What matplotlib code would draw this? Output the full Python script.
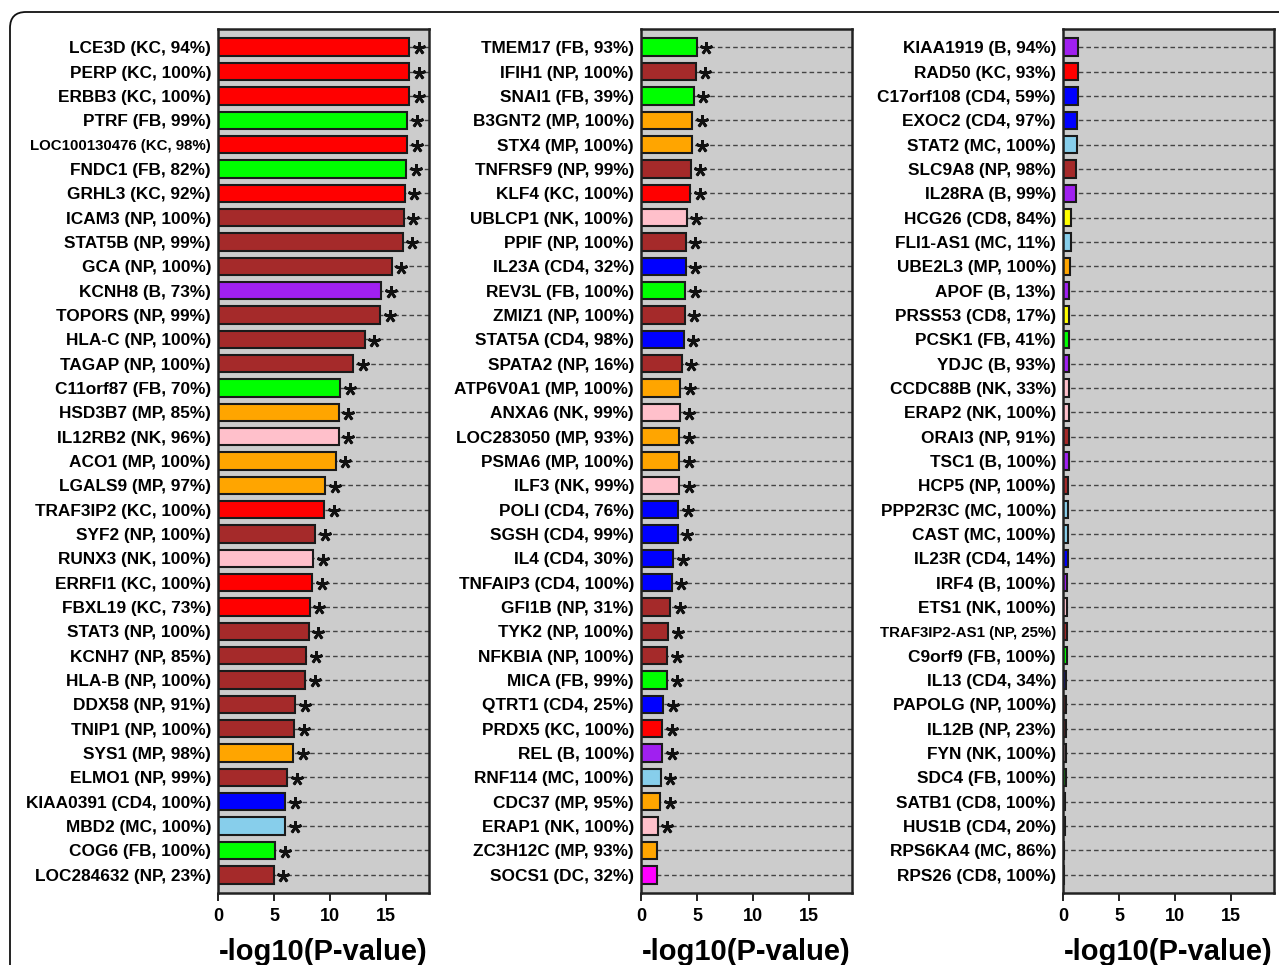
import matplotlib
matplotlib.use("Agg")
import matplotlib.pyplot as plt
from matplotlib.patches import FancyBboxPatch
from matplotlib.transforms import IdentityTransform
import numpy as np

plt.rcParams['font.family'] = ['Liberation Sans', 'DejaVu Sans']
plt.rcParams['font.weight'] = 'bold'
plt.rcParams['lines.scale_dashes'] = False

# ---------------- data ----------------
genes1 = ["LCE3D", "PERP", "ERBB3", "PTRF", "LOC100130476", "FNDC1", "GRHL3", "ICAM3",
          "STAT5B", "GCA", "KCNH8", "TOPORS", "HLA-C", "TAGAP", "C11orf87", "HSD3B7",
          "IL12RB2", "ACO1", "LGALS9", "TRAF3IP2", "SYF2", "RUNX3", "ERRFI1", "FBXL19",
          "STAT3", "KCNH7", "HLA-B", "DDX58", "TNIP1", "SYS1", "ELMO1", "KIAA0391",
          "MBD2", "COG6", "LOC284632"]
cells1 = ["KC", "KC", "KC", "FB", "KC", "FB", "KC", "NP", "NP", "NP", "B", "NP", "NP", "NP",
          "FB", "MP", "NK", "MP", "MP", "KC", "NP", "NK", "KC", "KC", "NP", "NP", "NP", "NP",
          "NP", "MP", "NP", "CD4", "MC", "FB", "NP"]
pct1 = [94, 100, 100, 99, 98, 82, 92, 100, 99, 100, 73, 99, 100, 100, 70, 85, 96, 100, 97,
        100, 100, 100, 100, 73, 100, 85, 100, 91, 100, 98, 99, 100, 100, 100, 23]
vals1 = [17.1, 17.1, 17.1, 16.9, 16.9, 16.8, 16.7, 16.6, 16.5, 15.5, 14.6, 14.5, 13.1, 12.1,
         10.9, 10.8, 10.8, 10.5, 9.6, 9.5, 8.7, 8.5, 8.4, 8.2, 8.1, 7.9, 7.8, 6.9, 6.8, 6.7,
         6.2, 6.0, 6.0, 5.1, 5.0]
sig1 = [True] * 35

genes2 = ["TMEM17", "IFIH1", "SNAI1", "B3GNT2", "STX4", "TNFRSF9", "KLF4", "UBLCP1", "PPIF",
          "IL23A", "REV3L", "ZMIZ1", "STAT5A", "SPATA2", "ATP6V0A1", "ANXA6", "LOC283050",
          "PSMA6", "ILF3", "POLI", "SGSH", "IL4", "TNFAIP3", "GFI1B", "TYK2", "NFKBIA",
          "MICA", "QTRT1", "PRDX5", "REL", "RNF114", "CDC37", "ERAP1", "ZC3H12C", "SOCS1"]
cells2 = ["FB", "NP", "FB", "MP", "MP", "NP", "KC", "NK", "NP", "CD4", "FB", "NP", "CD4", "NP",
          "MP", "NK", "MP", "MP", "NK", "CD4", "CD4", "CD4", "CD4", "NP", "NP", "NP", "FB",
          "CD4", "KC", "B", "MC", "MP", "NK", "MP", "DC"]
pct2 = [93, 100, 39, 100, 100, 99, 100, 100, 100, 32, 100, 100, 98, 16, 100, 99, 93, 100, 99,
        76, 99, 30, 100, 31, 100, 100, 99, 25, 100, 100, 100, 95, 100, 93, 32]
vals2 = [5.0, 4.9, 4.7, 4.6, 4.6, 4.45, 4.4, 4.1, 4.0, 4.0, 3.95, 3.9, 3.8, 3.65, 3.5, 3.45,
         3.42, 3.42, 3.42, 3.35, 3.3, 2.9, 2.75, 2.6, 2.45, 2.35, 2.35, 2.0, 1.92, 1.88, 1.75,
         1.72, 1.5, 1.4, 1.42]
sig2 = [True] * 33 + [False] * 2

genes3 = ["KIAA1919", "RAD50", "C17orf108", "EXOC2", "STAT2", "SLC9A8", "IL28RA", "HCG26",
          "FLI1-AS1", "UBE2L3", "APOF", "PRSS53", "PCSK1", "YDJC", "CCDC88B", "ERAP2", "ORAI3",
          "TSC1", "HCP5", "PPP2R3C", "CAST", "IL23R", "IRF4", "ETS1", "TRAF3IP2-AS1", "C9orf9",
          "IL13", "PAPOLG", "IL12B", "FYN", "SDC4", "SATB1", "HUS1B", "RPS6KA4", "RPS26"]
cells3 = ["B", "KC", "CD4", "CD4", "MC", "NP", "B", "CD8", "MC", "MP", "B", "CD8", "FB", "B",
          "NK", "NK", "NP", "B", "NP", "MC", "MC", "CD4", "B", "NK", "NP", "FB", "CD4", "NP",
          "NP", "NK", "FB", "CD8", "CD4", "MC", "CD8"]
pct3 = [94, 93, 59, 97, 100, 98, 99, 84, 11, 100, 13, 17, 41, 93, 33, 100, 91, 100, 100, 100,
        100, 14, 100, 100, 25, 100, 34, 100, 23, 100, 100, 100, 20, 86, 100]
vals3 = [1.38, 1.35, 1.35, 1.28, 1.27, 1.17, 1.15, 0.73, 0.70, 0.62, 0.58, 0.56, 0.55, 0.52,
         0.52, 0.51, 0.50, 0.50, 0.47, 0.47, 0.45, 0.42, 0.40, 0.40, 0.38, 0.33, 0.30, 0.30,
         0.27, 0.26, 0.24, 0.20, 0.15, 0.10, 0.05]
sig3 = [False] * 35

cell_colors = {"KC": "#FF0000", "FB": "#00FF00", "NP": "#A52A2A", "MP": "#FFA500",
               "NK": "#FFC0CB", "CD4": "#0000FF", "MC": "#87CEEB", "B": "#A020F0",
               "CD8": "#FFFF00", "DC": "#FF00FF"}

xmax = 18.85
xticks = [0, 5, 10, 15]
xlabel = "-log10(P-value)"

# ---------------- figure ----------------
W, H = 1279, 965
fig = plt.figure(figsize=(W / 100, H / 100), dpi=100)

# rounded outer frame
frame = FancyBboxPatch((10, -200), 1500, H - 12 + 200,
                       boxstyle="round,pad=0,rounding_size=16",
                       transform=IdentityTransform(), fill=False,
                       edgecolor="#111111", linewidth=1.3)
fig.add_artist(frame)

panel_left_px = [218, 641, 1063]
panel_w_px = 211
top_px, bottom_px = 29, 893

panels = [(genes1, cells1, pct1, vals1, sig1),
          (genes2, cells2, pct2, vals2, sig2),
          (genes3, cells3, pct3, vals3, sig3)]

for (genes, cells, pct, vals, sig), lpx in zip(panels, panel_left_px):
    ax = fig.add_axes([lpx / W, (H - bottom_px) / H, panel_w_px / W,
                       (bottom_px - top_px) / H])
    ax.set_facecolor("#CCCCCC")
    n = len(genes)
    y = np.arange(n)
    vals = np.asarray(vals)
    # dashed guide lines
    ax.hlines(y, 0, xmax, colors="#444444", linewidth=1.0,
              linestyles=[(0, (3.3, 2.2))], zorder=1)
    ax.barh(y, vals, height=0.72, color=[cell_colors[c] for c in cells],
            edgecolor="#1a1a1a", linewidth=1.5, zorder=2)
    sig = np.asarray(sig)
    if sig.any():
        ax.plot(vals[sig] + 0.85, y[sig] + 0.05, linestyle="none",
                marker=(5, 2, 0), markersize=9, markeredgewidth=2.0,
                color="#111111", zorder=3)
    ax.set_xlim(0, xmax)
    ax.set_ylim(n - 0.25, -0.75)
    ax.set_yticks(y)
    labels = [f"{g} ({c}, {p}%)" for g, c, p in zip(genes, cells, pct)]
    ax.set_yticklabels(labels)
    for lab in ax.get_yticklabels():
        lab.set_fontsize(10.8 if len(lab.get_text()) >= 22 else 12.4)
        lab.set_fontweight("bold")
    ax.tick_params(axis="y", length=0, pad=5)
    ax.set_xticks(xticks)
    ax.set_xticklabels([str(t) for t in xticks], fontsize=13, fontweight="bold")
    ax.tick_params(axis="x", length=6, width=1.4, pad=5, color="#222222")
    for s in ax.spines.values():
        s.set_linewidth(1.8)
        s.set_color("#222222")
    ax.set_xlabel(xlabel, fontsize=21, fontweight="bold", labelpad=9)

fig.savefig("out.png", dpi=100)
